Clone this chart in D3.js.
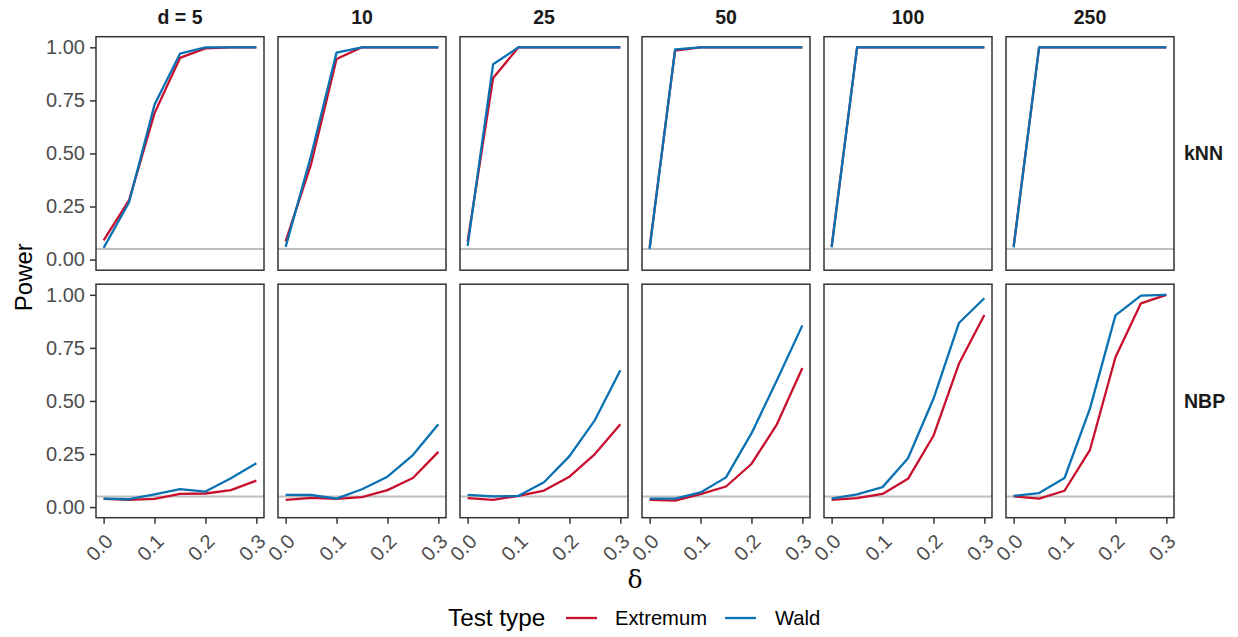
<!DOCTYPE html>
<html>
<head>
<meta charset="utf-8">
<script src="https://cdn.jsdelivr.net/npm/d3@7"></script>
<style>
  html, body { margin: 0; padding: 0; background: #ffffff; }
  svg { display: block; font-family: "Liberation Sans", Arial, sans-serif; }
</style>
</head>
<body>
<svg id="chart" width="1238" height="637"></svg>
<script>
// ---- data ----
const deltas = [0, 0.05, 0.1, 0.15, 0.2, 0.25, 0.3];
const dims = ["5", "10", "25", "50", "100", "250"];
const dimLabels = ["d = 5", "10", "25", "50", "100", "250"];
const methods = ["kNN", "NBP"];
const testTypes = ["Extremum", "Wald"];
const yTicks = [0, 0.25, 0.5, 0.75, 1.0];
const xTicks = [0, 0.1, 0.2, 0.3];
const alphaLevel = 0.05;

// kNN power, one row per dimension
const knnExtremum = [
  [0.090, 0.280, 0.690, 0.950, 0.995, 1.000, 1.000],
  [0.086, 0.450, 0.945, 1.000, 1.000, 1.000, 1.000],
  [0.085, 0.855, 1.000, 1.000, 1.000, 1.000, 1.000],
  [0.058, 0.985, 1.000, 1.000, 1.000, 1.000, 1.000],
  [0.062, 1.000, 1.000, 1.000, 1.000, 1.000, 1.000],
  [0.062, 1.000, 1.000, 1.000, 1.000, 1.000, 1.000]
];
const knnWald = [
  [0.055, 0.270, 0.730, 0.970, 1.000, 1.000, 1.000],
  [0.060, 0.490, 0.975, 1.000, 1.000, 1.000, 1.000],
  [0.065, 0.920, 1.000, 1.000, 1.000, 1.000, 1.000],
  [0.050, 0.990, 1.000, 1.000, 1.000, 1.000, 1.000],
  [0.058, 1.000, 1.000, 1.000, 1.000, 1.000, 1.000],
  [0.058, 1.000, 1.000, 1.000, 1.000, 1.000, 1.000]
];
// NBP power, one row per dimension
const nbpExtremum = [
  [0.039, 0.034, 0.039, 0.062, 0.064, 0.080, 0.125],
  [0.034, 0.043, 0.039, 0.047, 0.080, 0.137, 0.260],
  [0.042, 0.034, 0.053, 0.078, 0.143, 0.250, 0.390],
  [0.034, 0.030, 0.061, 0.097, 0.203, 0.390, 0.655],
  [0.034, 0.042, 0.062, 0.133, 0.336, 0.675, 0.905],
  [0.050, 0.040, 0.077, 0.270, 0.706, 0.960, 1.000]
];
const nbpWald = [
  [0.040, 0.037, 0.060, 0.085, 0.073, 0.136, 0.207],
  [0.058, 0.057, 0.040, 0.084, 0.143, 0.245, 0.390],
  [0.058, 0.050, 0.053, 0.117, 0.240, 0.410, 0.645],
  [0.040, 0.040, 0.069, 0.140, 0.347, 0.597, 0.856],
  [0.040, 0.060, 0.094, 0.230, 0.510, 0.867, 0.984],
  [0.053, 0.066, 0.137, 0.465, 0.903, 0.996, 1.000]
];

const seriesByMethod = {
  kNN: { Extremum: knnExtremum, Wald: knnWald },
  NBP: { Extremum: nbpExtremum, Wald: nbpWald }
};

// ---- layout ----
const svg = d3.select("#chart");
const colX = d3.scaleBand().domain(dims).range([96, 1174]).paddingInner(14 / 182);
const rowY = d3.scaleBand().domain(methods).range([36.7, 517.7]).paddingInner(14 / 247.5);
const pw = colX.bandwidth(), ph = rowY.bandwidth();

const x = d3.scaleLinear().domain([-0.015, 0.315]).range([0, pw]);
const y = d3.scaleLinear().domain([-0.05, 1.05]).range([ph, 0]);
const color = d3.scaleOrdinal().domain(testTypes).range(["#c8102e", "#0a72b3"]);

const line = d3.line().x((d, i) => x(deltas[i])).y(d => y(d));

methods.forEach(m => {
  dims.forEach((dm, di) => {
    const g = svg.append("g").attr("transform", `translate(${colX(dm)},${rowY(m)})`);
    g.append("rect").attr("width", pw).attr("height", ph).attr("fill", "#ffffff");
    // reference line at alpha
    g.append("line")
      .attr("x1", 0).attr("x2", pw)
      .attr("y1", y(alphaLevel)).attr("y2", y(alphaLevel))
      .attr("stroke", "#bebebe").attr("stroke-width", 2);
    testTypes.forEach(t => {
      g.append("path")
        .attr("d", line(seriesByMethod[m][t][di]))
        .attr("fill", "none")
        .attr("stroke", color(t))
        .attr("stroke-width", 2.3)
        .attr("stroke-linejoin", "round");
    });
    g.append("rect").attr("width", pw).attr("height", ph)
      .attr("fill", "none").attr("stroke", "#333333").attr("stroke-width", 1.5);

    // y axis on first column
    if (di === 0) {
      const ya = g.append("g").call(d3.axisLeft(y).tickValues(yTicks).tickFormat(d3.format(".2f")).tickSize(6).tickPadding(5));
      ya.select(".domain").remove();
      ya.selectAll("line").attr("stroke", "#333333").attr("stroke-width", 1.5);
      ya.selectAll("text").attr("fill", "#4d4d4d").style("font-size", "20px")
        .attr("font-family", "Liberation Sans, Arial, sans-serif");
    }
    // x axis on bottom row
    if (m === methods[methods.length - 1]) {
      const xa = g.append("g").attr("transform", `translate(0,${ph})`)
        .call(d3.axisBottom(x).tickValues(xTicks).tickFormat(d3.format(".1f")).tickSize(6));
      xa.select(".domain").remove();
      xa.selectAll("line").attr("stroke", "#333333").attr("stroke-width", 1.5);
      xa.selectAll("text")
        .attr("fill", "#4d4d4d").style("font-size", "20px")
        .attr("font-family", "Liberation Sans, Arial, sans-serif")
        .attr("text-anchor", "end")
        .attr("y", 0).attr("dy", 0)
        .attr("transform", "translate(10,25) rotate(-45)");
    }
    // strip on top
    if (m === methods[0]) {
      svg.append("text")
        .attr("x", colX(dm) + pw / 2).attr("y", 24)
        .attr("text-anchor", "middle")
        .attr("font-weight", "bold").attr("font-size", 19.5).attr("fill", "#1a1a1a")
        .text(dimLabels[di]);
    }
  });
  // strip on right
  svg.append("text")
    .attr("x", 1184).attr("y", rowY(m) + ph / 2)
    .attr("dy", "0.36em")
    .attr("font-weight", "bold").attr("font-size", 19.5).attr("fill", "#1a1a1a")
    .text(m);
});

// axis titles
svg.append("text")
  .attr("transform", `translate(32,${(36.7 + 517.7) / 2}) rotate(-90)`)
  .attr("text-anchor", "middle").attr("font-size", 24).attr("fill", "#000")
  .text("Power");
svg.append("text")
  .attr("x", (96 + 1174) / 2).attr("y", 588)
  .attr("text-anchor", "middle").attr("font-size", 25)
  .attr("font-family", "DejaVu Serif, Liberation Serif, serif").attr("fill", "#000")
  .text("δ");

// legend
const lg = svg.append("g");
lg.append("text").attr("x", 448).attr("y", 626).attr("font-size", 24.3).attr("fill", "#000").text("Test type");
const keyX = [566, 725], labX = [615, 775];
testTypes.forEach((t, i) => {
  lg.append("line").attr("x1", keyX[i]).attr("x2", keyX[i] + 31).attr("y1", 618).attr("y2", 618)
    .attr("stroke", color(t)).attr("stroke-width", 2.3);
  lg.append("text").attr("x", labX[i]).attr("y", 625).attr("font-size", 20.2).attr("fill", "#000").text(t);
});
</script>
</body>
</html>
